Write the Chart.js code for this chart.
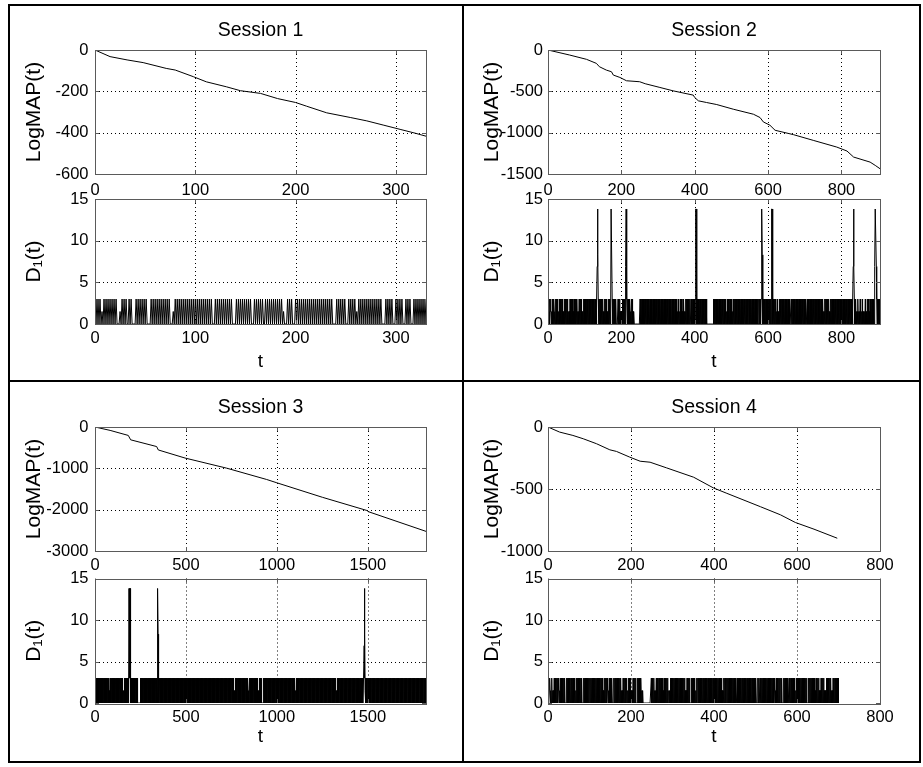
<!DOCTYPE html>
<html>
<head>
<meta charset="utf-8">
<script src="https://cdn.jsdelivr.net/npm/chart.js@4.4.1/dist/chart.umd.min.js"></script>
<style>
  body { margin: 0; background: #fff; }
  #fig { position: relative; width: 923px; height: 767px; overflow: hidden; background: #fff; }
  canvas { position: absolute; }
  .rule { position: absolute; background: #000; }
</style>
</head>
<body>
<div id="fig">
  <div class="rule" style="left:8px;top:4px;width:913px;height:2px"></div>
  <div class="rule" style="left:8px;top:761px;width:913px;height:2px"></div>
  <div class="rule" style="left:8px;top:4px;width:2px;height:759px"></div>
  <div class="rule" style="left:919px;top:4px;width:2px;height:759px"></div>
  <div class="rule" style="left:462px;top:4px;width:2px;height:759px"></div>
  <div class="rule" style="left:8px;top:380px;width:913px;height:2px"></div>

  <canvas id="s1a" width="462" height="200" style="left:0;top:0"></canvas>
  <canvas id="s1b" width="462" height="200" style="left:0;top:180px"></canvas>
  <canvas id="s2a" width="458" height="200" style="left:462px;top:0"></canvas>
  <canvas id="s2b" width="458" height="200" style="left:462px;top:180px"></canvas>
  <canvas id="s3a" width="462" height="200" style="left:0;top:380px"></canvas>
  <canvas id="s3b" width="462" height="207" style="left:0;top:560px"></canvas>
  <canvas id="s4a" width="458" height="200" style="left:462px;top:380px"></canvas>
  <canvas id="s4b" width="458" height="207" style="left:462px;top:560px"></canvas>
</div>
<script>
// LogMAP(t) curves (t, value)
const logT1 = [0, 15, 32, 48, 71, 80, 98, 111, 131, 145, 165, 182, 200, 211, 231, 255, 271, 288, 305, 318, 330];
const logV1 = [0, -32, -48, -61, -89, -97, -129, -154, -178, -197, -210, -235, -254, -272, -304, -327, -343, -364, -385, -401, -417];

const logT2 = [0, 59, 105, 132, 140, 159, 173, 178, 196, 214, 250, 265, 305, 341, 396, 400, 410, 432, 460, 505, 560, 578, 587, 605, 619, 669, 723, 787, 815, 833, 878, 892, 905];
const logV2 = [0, -61, -113, -162, -202, -243, -263, -303, -332, -372, -384, -408, -453, -494, -546, -575, -615, -635, -660, -716, -777, -817, -870, -910, -971, -1024, -1093, -1174, -1222, -1295, -1356, -1396, -1436];

const logT3 = [0, 83, 183, 196, 339, 348, 495, 724, 944, 1000, 1250, 1495, 1504, 1820];
const logV3 = [0, -82, -204, -310, -473, -555, -751, -996, -1270, -1350, -1700, -2020, -2050, -2525];

const logT4 = [0, 28, 60, 85, 117, 149, 165, 197, 222, 246, 286, 351, 399, 431, 512, 560, 596, 641, 697];
const logV4 = [0, -41, -68, -95, -135, -184, -197, -243, -276, -284, -330, -405, -492, -535, -643, -708, -770, -824, -897];

// D1(t), one symbol per t = 0,1,2,...  (0 -> 0, h -> 1.5, 3 -> 3, 7 -> 6.9, 8 -> 8.3, e -> 13.8)
const dLevels = { '0': 0, 'h': 1.5, '3': 3, '7': 6.9, '8': 8.3, 'e': 13.8 };

const d1Session1 =
  '0303030h03 0303030303 03000h0303 0300303000 0303030303 0300003030 3030303030 30303000h0 3030303030 3030303030 ' +
  '3030303030 3030303000 3030303030 3030303000 0303030303 0303030003 0303030300 3030303030 30303030h0 0030303000 ' +
  '3030303030 3030303030 3030303030 3030303000 0303030303 0003030303 0h03030303 0303030303 0303030000 3030303000 ' +
  '3030303000 3030300030 30303030303';

const d1Session2 =
  '0h0h03h3h0 h030303h0h 0303030h0h 0303030303 0h0h030303 030300h0h0 3030303h0h 0303030303 0h0h030303 030h0h0303 ' +
  '0303030303 0303030303 0303030303 03037e8303 0303030303 0h0h030303 0h0h030303 03eee30303 0303030000 0303030h0h ' +
  '0h03030303 037e730303 0303h0h030 30h0h00000 0000000000 0303030303 0303030303 0303030303 0300030303 0303030303 ' +
  '0303030303 0303030303 0303030303 0303000303 0303030303 0h0h030h0h 0303h0h030 30h0h03030 3030303000 3030303030 ' +
  '30eee30303 0303030303 0303030303 0300000000 0000000000 0303030303 0303030303 0303030303 03030h0h03 0303030303 ' +
  '0h0h030303 0303030303 0303030303 0303030303 0303000303 0303030303 0303030303 0300030303 038e830303 0303030303 ' +
  '0303030303 eee0303030 3h0h030h0h 0303030303 0303030303 0303030303 0003030303 0303030303 0303030303 0303030303 ' +
  '0303000303 0303030303 0303030303 0303030303 0303030303 0h0h030303 0303030h0h 0303030303 0303030303 0303030303 ' +
  '0003030303 0303030303 0303030303 037e730303 0h0h030h0h 030h0h030h 0h0h030h0h 0303h0h030 3030303030 37eee73030 ' +
  '303030';

const d1Session3 =
  '0303030303 0303030303 0303030303 0303030303 0303030303 0303030303 0303030303 03030h0h0h 0h03030303 0303030303 ' +
  '0303030303 0303030303 0303030303 0303030303 0303030303 030h0h0h0h 0303030303 0303030303 0303030e3e 3e3e303030 ' +
  '0303030303 0303030h0h 0h0h030303 0303000000 0000000000 0303030303 0303030303 0303030303 0303030303 0303030303 ' +
  '0303030303 0303030303 0303030303 0303030303 030303e8h0 0000030303 0303030303 0303030303 0303030303 0303030303 ' +
  '0303030303 0303030303 0303030303 0303030303 0303030303 0303030303 0303030303 0303030303 0303030303 0303030303 ' +
  '0303030303 0303030303 0303030303 0303030303 0303030303 0303030303 0303030303 0303030303 0303030303 0303030303 ' +
  '0303030303 0303030303 0303030303 0303030303 0303030303 0303030303 0303030303 0303030303 0303030303 0303030303 ' +
  '0303030303 0303030303 0303030303 0303030303 0303030303 0303030303 0303h0h0h0 h030303030 3030303030 3030303030 ' +
  '3030303030 3030303030 3030303030 3030303030 03h0h0h0h0 3030303030 3030303030 3030303030 3030303030 030303h0h0 ' +
  'h0h0303030 3030300000 0000000303 0303030303 0303030303 0303030303 0303030303 0303030303 0303030303 0303030303 ' +
  '0303030303 0303030303 0303030303 0303030303 0303030303 0303030303 0303030303 0303030303 0303030303 0303030303 ' +
  '0h0h0h0h03 0303030303 0303030303 0303030303 0303030303 0303030303 0303030303 0303030303 0303030303 0303030303 ' +
  '0303030303 0303030303 0303030303 0303030303 0303030303 0303030303 0303030303 0303030303 0303030303 0303030303 ' +
  '0303030303 0303030303 03030h0h0h 0h03030303 0303030303 0303030303 0303030303 0303030303 0303030303 0303030303 ' +
  '0303030303 0303030303 0303030303 0303030303 0303030303 0303000000 0303030303 0300000000 7e3e8h0303 0303030303 ' +
  '0303030303 0303030303 0303030303 0303030303 0303030303 0303030303 0303030303 0303030303 0303030303 0303030303 ' +
  '0303030303 0303030303 0303030303 0303030303 0303030303 0303030303 0303030303 0303030303 0303030303 0303030303 ' +
  '0303030303 0303030303 0303030303 0303030303 0303030303 0303030303 0303030303 0303030303 0303030303 0303030303 ' +
  '0303030303 0303030303 0';

const d1Session4 =
  '0h0h3h0h03 0h0h030303 030303h0h0 3030303030 3000030303 0303030303 03030h0h03 0303030303 0300003030 3030303030 ' +
  '0303030303 0303030303 0303030303 030h0h0303 0303h0h030 3030300003 0303030303 0303030h0h 0303030303 h0h0303030 ' +
  '0h0h030303 0300003030 303030h0h0 0000000000 0000000003 0303030h0h 0303030303 030303h0h0 3030303030 0h0h030303 ' +
  '0303030303 0303030303 0303030303 0h0h030303 0300003030 3030h0h030 0303030303 0303030303 0303030303 0303030303 ' +
  '0303030303 03030303h0 h0h0303030 0303030303 0303030303 0300003030 0303030303 0303030303 0303030303 0303030303 ' +
  '0300003030 0303030303 0303030303 0303030303 030303h0h0 3030303030 0303000030 3030303030 0303030303 03030h0h03 ' +
  '0303030303 0303030303 0303000030 0303030303 03h0h03030 3030h0h030 303030h0h0 0303030303 030h0h0303 0303030303 ' +
  '0';

// axis ticks
const xTicks1 = [0, 100, 200, 300];
const xTicks2 = [0, 200, 400, 600, 800];
const xTicks3 = [0, 500, 1000, 1500];
const xTicks4 = [0, 200, 400, 600, 800];
const logTicks1 = [0, -200, -400, -600];
const logTicks2 = [0, -500, -1000, -1500];
const logTicks3 = [0, -1000, -2000, -3000];
const logTicks4 = [0, -500, -1000];
const dTicks = [0, 5, 10, 15];

const FONT = "'Liberation Sans', Arial, Helvetica, sans-serif";

function pairs(ts, vs) {
    return ts.map((t, i) => ({ x: t, y: vs[i] }));
}

function symbols(str) {
    return Array.from(str.replace(/\s+/g, ''), (c, i) => ({ x: i, y: dLevels[c] }));
}

// dotted grid under the line, grey box and inward ticks over it (MATLAB look)
const axesDecor = {
    id: 'axesDecor',
    beforeDatasetsDraw(chart) {
        const { ctx, chartArea: a, scales: { x, y } } = chart;
        ctx.save();
        ctx.strokeStyle = '#000';
        ctx.lineWidth = 1;
        ctx.setLineDash([1, 3]);
        ctx.beginPath();
        x.ticks.forEach(t => {
            const px = Math.round(x.getPixelForValue(t.value)) + 0.5;
            if (px > a.left + 2 && px < a.right - 2) { ctx.moveTo(px, a.top); ctx.lineTo(px, a.bottom); }
        });
        y.ticks.forEach(t => {
            const py = Math.round(y.getPixelForValue(t.value)) + 0.5;
            if (py > a.top + 2 && py < a.bottom - 2) { ctx.moveTo(a.left, py); ctx.lineTo(a.right, py); }
        });
        ctx.stroke();
        ctx.restore();
    },
    afterDatasetsDraw(chart) {
        const { ctx, chartArea: a, scales: { x, y } } = chart;
        ctx.save();
        ctx.strokeStyle = '#5a5a5a';
        ctx.lineWidth = 1;
        ctx.beginPath();
        x.ticks.forEach(t => {
            const px = Math.round(x.getPixelForValue(t.value)) + 0.5;
            ctx.moveTo(px, a.bottom); ctx.lineTo(px, a.bottom - 4);
            ctx.moveTo(px, a.top); ctx.lineTo(px, a.top + 4);
        });
        y.ticks.forEach(t => {
            const py = Math.round(y.getPixelForValue(t.value)) + 0.5;
            ctx.moveTo(a.left, py); ctx.lineTo(a.left + 4, py);
            ctx.moveTo(a.right, py); ctx.lineTo(a.right - 4, py);
        });
        ctx.stroke();
        ctx.strokeRect(Math.round(a.left) + 0.5, Math.round(a.top) + 0.5,
                       Math.round(a.right - a.left), Math.round(a.bottom - a.top));
        ctx.restore();
    }
};

function panel(id, c) {
    const tickFont = { family: FONT, size: 16.5 };
    return new Chart(document.getElementById(id), {
        type: 'line',
        data: {
            datasets: [{
                data: c.data,
                borderColor: '#000',
                borderWidth: c.lw || 1,
                pointRadius: 0,
                tension: 0,
                fill: false
            }]
        },
        options: {
            responsive: false,
            animation: false,
            events: [],
            parsing: false,
            normalized: true,
            layout: { padding: { top: c.padTop || 0, right: c.padRight, left: 0, bottom: 0 } },
            plugins: {
                legend: { display: false },
                tooltip: { enabled: false },
                title: c.title ? {
                    display: true,
                    text: c.title,
                    fullSize: false,
                    color: '#000',
                    font: { family: FONT, size: 19.5, weight: 'normal' },
                    padding: c.titlePad
                } : { display: false }
            },
            scales: {
                x: {
                    type: 'linear',
                    min: 0,
                    max: c.xmax,
                    grid: { display: false, drawTicks: false },
                    border: { display: false },
                    afterBuildTicks: s => { s.ticks = c.xticks.map(v => ({ value: v })); },
                    afterFit: s => { s.height = c.xh; },
                    ticks: { font: tickFont, color: '#000', padding: c.xpad, maxRotation: 0, autoSkip: false, callback: v => String(v) },
                    title: c.xtitle ? {
                        display: true, text: c.xtitle, color: '#000',
                        font: { family: FONT, size: 19 },
                        padding: { top: 0, bottom: c.xtitlePad }
                    } : { display: false }
                },
                y: {
                    type: 'linear',
                    min: c.ymin,
                    max: c.ymax,
                    grid: { display: false, drawTicks: false },
                    border: { display: false },
                    afterBuildTicks: s => { s.ticks = c.yticks.map(v => ({ value: v })); },
                    afterFit: s => { s.width = c.yw; },
                    ticks: { font: tickFont, color: '#000', padding: c.ypad, autoSkip: false, callback: v => String(v) },
                    title: {
                        display: true, text: c.ytitle, color: '#000',
                        font: { family: FONT, size: 21 },
                        padding: { top: c.ytitlePad, bottom: 0 }
                    }
                }
            }
        },
        plugins: [axesDecor]
    });
}

const leftCol = { yw: 95, padRight: 36, ytitlePad: 22, ypad: 6.5 };
const rightCol = { yw: 86, padRight: 40, ytitlePad: 18, ypad: 5 };

// Session 1
panel('s1a', { ...leftCol, title: 'Session 1', titlePad: { top: 18.6, bottom: 8 }, xh: 26, xpad: 6.7,
    data: pairs(logT1, logV1), xmax: 330, xticks: xTicks1, ymin: -600, ymax: 0, yticks: logTicks1, ytitle: 'LogMAP(t)' });
panel('s1b', { ...leftCol, padTop: 19, xh: 56, xpad: 4.3, xtitle: 't', xtitlePad: 6.6,
    data: symbols(d1Session1), xmax: 330, xticks: xTicks1, ymin: 0, ymax: 15, yticks: dTicks, ytitle: 'D₁(t)' });

// Session 2
panel('s2a', { ...rightCol, title: 'Session 2', titlePad: { top: 18.6, bottom: 8 }, xh: 26, xpad: 6.7,
    data: pairs(logT2, logV2), xmax: 905, xticks: xTicks2, ymin: -1500, ymax: 0, yticks: logTicks2, ytitle: 'LogMAP(t)' });
panel('s2b', { ...rightCol, padTop: 19, xh: 56, xpad: 4.3, xtitle: 't', xtitlePad: 6.6,
    data: symbols(d1Session2), xmax: 905, xticks: xTicks2, ymin: 0, ymax: 15, yticks: dTicks, ytitle: 'D₁(t)' });

// Session 3
panel('s3a', { ...leftCol, title: 'Session 3', titlePad: { top: 16.3, bottom: 7.3 }, xh: 29, xpad: 4.3,
    data: pairs(logT3, logV3), xmax: 1820, xticks: xTicks3, ymin: -3000, ymax: 0, yticks: logTicks3, ytitle: 'LogMAP(t)' });
panel('s3b', { ...leftCol, padTop: 18.5, xh: 64, xpad: 4.4, xtitle: 't', xtitlePad: 18.6,
    data: symbols(d1Session3), xmax: 1820, xticks: xTicks3, ymin: 0, ymax: 15, yticks: dTicks, ytitle: 'D₁(t)' });

// Session 4
panel('s4a', { ...rightCol, title: 'Session 4', titlePad: { top: 16.3, bottom: 7.3 }, xh: 29, xpad: 4.3,
    data: pairs(logT4, logV4), xmax: 800, xticks: xTicks4, ymin: -1000, ymax: 0, yticks: logTicks4, ytitle: 'LogMAP(t)' });
panel('s4b', { ...rightCol, padTop: 18.5, xh: 64, xpad: 4.4, xtitle: 't', xtitlePad: 18.6,
    data: symbols(d1Session4), xmax: 800, xticks: xTicks4, ymin: 0, ymax: 15, yticks: dTicks, ytitle: 'D₁(t)' });
</script>
</body>
</html>
